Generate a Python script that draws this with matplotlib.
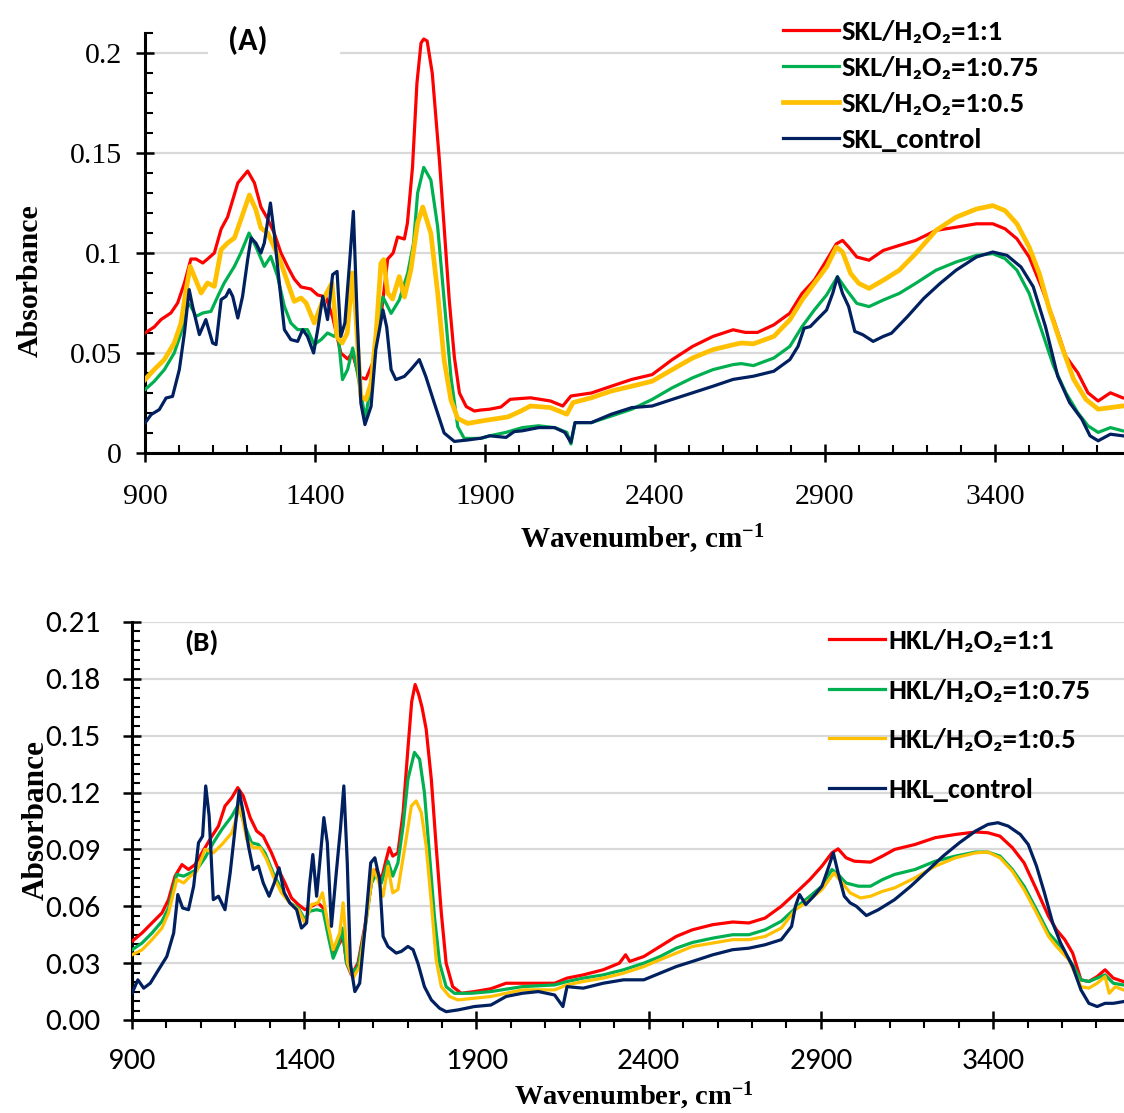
import matplotlib
matplotlib.use('Agg')
import matplotlib.pyplot as plt
from matplotlib import font_manager as fm
from matplotlib.ticker import MultipleLocator
from matplotlib.patches import Rectangle

# ---------------- Panel A data (SKL) ----------------
a_red_wn = [900, 927, 947, 976, 996, 1016, 1035, 1050, 1070, 1084, 1104, 1124, 1143, 1173, 1202, 1222, 1241, 1261,
            1280, 1300, 1320, 1339, 1359, 1388, 1408, 1432, 1452, 1476, 1496, 1510, 1530, 1550, 1570, 1594, 1614,
            1630, 1643, 1663, 1672, 1687, 1700, 1712, 1720, 1730, 1745, 1766, 1780, 1795, 1810, 1825, 1845, 1869,
            1888, 1914, 1947, 1974, 1986, 2034, 2093, 2129, 2153, 2213, 2272, 2332, 2392, 2451, 2511, 2571, 2630,
            2666, 2702, 2750, 2797, 2833, 2869, 2905, 2934, 2952, 2970, 2994, 3030, 3072, 3119, 3167, 3227, 3286,
            3346, 3394, 3430, 3465, 3501, 3537, 3573, 3609, 3644, 3674, 3704, 3740, 3776]
a_red_abs = [.060, .063, .0667, .070, .075, .085, .097, .097, .095, .097, .100, .112, .118, .135, .141, .135, .123, .117,
             .110, .100, .093, .087, .083, .082, .079, .078, .068, .050, .047, .050, .038, .037, .045, .068, .097,
             .100, .108, .107, .115, .143, .185, .205, .207, .206, .19, .1465, .113, .0765, .048, .030, .0232, .021,
             .0215, .0219, .023, .0268, .027, .0276, .026, .0235, .0285, .030, .0334, .0368, .0392, .0467, .0533, .0583, .0616,
             .0603, .0603, .0641, .0699, .0798, .0864, .0964, .1046, .1063, .103, .098, .0964, .1013, .1038, .1063, .1113, .1129,
             .1146, .1146, .1121, .1071, .098, .0831, .0666, .0483, .0401, .0301, .026, .0301, .0276]

a_green_wn = [900, 927, 957, 986, 1006, 1025, 1035, 1050, 1070, 1094, 1114, 1133, 1163, 1182, 1206, 1226, 1251, 1270,
              1290, 1310, 1329, 1349, 1378, 1398, 1418, 1437, 1457, 1467, 1481, 1496, 1511, 1525, 1548, 1565, 1584,
              1600, 1624, 1648, 1673, 1690, 1702, 1720, 1741, 1761, 1780, 1800, 1820, 1839, 1888, 1914, 1962, 2010,
              2058, 2105, 2141, 2153, 2165, 2213, 2272, 2332, 2392, 2451, 2511, 2571, 2630, 2654, 2690, 2750, 2797,
              2833, 2869, 2905, 2937, 2964, 2994, 3030, 3072, 3119, 3167, 3227, 3286, 3346, 3394, 3430, 3465, 3501,
              3537, 3573, 3609, 3644, 3674, 3704, 3740, 3776]
a_green_abs = [.0317, .0358, .0417, .050, .060, .075, .0733, .0683, .070, .0708, .0783, .085, .0933, .100, .110, .1033, .0933, .0983,
               .0883, .0733, .065, .0617, .0617, .0542, .0567, .060, .0583, .0608, .0367, .0417, .0525, .040, .017, .035, .065,
               .078, .0698, .0765, .090, .105, .130, .1428, .1365, .113, .0765, .038, .0132, .0073, .0073, .0086, .0103, .0127,
               .0136, .0127, .0103, .0045, .0152, .0152, .0185, .0219, .0268, .0326, .0376, .0417, .0442, .0447, .0437, .0475, .0533,
               .0632, .0715, .079, .0881, .0815, .0748, .0732, .0765, .0798, .0848, .0914, .0955, .0988, .0997, .0972, .0914, .0798,
               .0616, .0434, .0301, .0202, .0136, .0103, .0127, .0111]

a_yellow_wn = [900, 927, 957, 986, 1006, 1021, 1033, 1045, 1065, 1084, 1104, 1124, 1143, 1163, 1182, 1207, 1226, 1241,
               1261, 1280, 1300, 1320, 1339, 1359, 1374, 1398, 1425, 1450, 1465, 1480, 1495, 1510, 1520, 1535, 1550,
               1565, 1580, 1594, 1602, 1614, 1628, 1648, 1663, 1682, 1702, 1717, 1741, 1761, 1780, 1800, 1820, 1849,
               1908, 1967, 2006, 2034, 2093, 2141, 2159, 2213, 2272, 2332, 2392, 2451, 2511, 2571, 2630, 2654, 2690,
               2750, 2797, 2833, 2869, 2905, 2934, 2952, 2976, 3000, 3030, 3072, 3119, 3167, 3227, 3286, 3346, 3394,
               3430, 3465, 3501, 3531, 3561, 3597, 3632, 3668, 3704, 3740, 3776]
a_yellow_abs = [.0367, .0417, .0467, .055, .065, .0817, .0933, .0883, .080, .085, .0833, .1017, .105, .1075, .1167, .129, .1217, .1125,
                .110, .103, .095, .085, .0758, .0775, .075, .065, .077, .085, .058, .055, .060, .090, .070, .0283, .0267,
                .035, .060, .0948, .0967, .080, .077, .0882, .078, .0915, .115, .123, .1098, .080, .0465, .0265, .0173, .0148,
                .0165, .018, .021, .0235, .0227, .0194, .0252, .0276, .031, .0334, .0359, .0417, .0475, .0517, .0541, .055, .0546,
                .0583, .0666, .0765, .0848, .093, .103, .1005, .0897, .0848, .0823, .0864, .0914, .0997, .1113, .1179, .122, .1237,
                .1212, .1146, .103, .0897, .0715, .0533, .0368, .0268, .0219, .0227, .0235]

a_navy_wn = [900, 918, 942, 962, 981, 1001, 1016, 1030, 1040, 1060, 1079, 1099, 1109, 1124, 1138, 1148, 1158, 1173,
             1187, 1202, 1212, 1226, 1241, 1251, 1269, 1280, 1295, 1310, 1329, 1349, 1364, 1378, 1396, 1408, 1423,
             1437, 1452, 1465, 1476, 1488, 1501, 1513, 1524, 1535, 1547, 1565, 1579, 1600, 1611, 1624, 1638, 1663,
             1682, 1707, 1726, 1751, 1780, 1810, 1849, 1888, 1914, 1937, 1962, 1986, 2010, 2058, 2105, 2135, 2153,
             2165, 2213, 2272, 2332, 2392, 2451, 2511, 2571, 2630, 2690, 2750, 2797, 2821, 2839, 2857, 2881, 2905,
             2923, 2937, 2952, 2970, 2988, 3012, 3042, 3072, 3096, 3143, 3191, 3239, 3286, 3346, 3394, 3436, 3477,
             3513, 3549, 3585, 3620, 3656, 3680, 3704, 3740, 3776]
a_navy_abs = [.015, .0192, .0217, .0275, .0283, .0417, .060, .0817, .0733, .0592, .0667, .055, .0542, .0767, .0783, .0817, .0783, .0675,
              .0783, .0967, .1075, .105, .100, .105, .125, .110, .085, .0617, .0567, .0558, .0617, .0583, .050, .0617, .0783,
              .0667, .0892, .0908, .0583, .065, .0933, .1208, .0683, .025, .0142, .0233, .0517, .0715, .063, .0417, .0367, .0383,
              .0417, .0467, .0383, .025, .010, .0058, .0065, .0074, .0086, .0082, .0078, .0107, .0111, .0127, .0127, .0103, .0053,
              .0152, .0152, .0194, .0227, .0235, .0268, .0301, .0334, .0368, .0384, .0409, .0467, .0533, .0624, .0632, .0674, .0715,
              .0798, .0881, .0798, .0732, .0608, .0591, .0558, .0583, .0599, .0682, .0773, .0848, .0914, .098, .1005, .0988, .093,
              .0831, .0632, .0384, .0252, .0169, .0086, .0061, .0094, .0086]

# ---------------- Panel B data (HKL) ----------------
b_red_wn = [900, 929, 958, 987, 1006, 1025, 1045, 1064, 1083, 1103, 1132, 1151, 1170, 1190, 1207, 1223, 1243, 1262,
            1281, 1305, 1325, 1344, 1363, 1383, 1402, 1421, 1440, 1460, 1470, 1484, 1503, 1513, 1523, 1537, 1556,
            1576, 1595, 1609, 1624, 1638, 1647, 1657, 1672, 1687, 1701, 1712, 1722, 1732, 1742, 1754, 1769, 1783,
            1798, 1812, 1831, 1856, 1894, 1942, 1986, 2033, 2080, 2127, 2163, 2210, 2268, 2315, 2333, 2345, 2386,
            2433, 2480, 2527, 2586, 2644, 2691, 2738, 2785, 2832, 2868, 2903, 2932, 2950, 2973, 2997, 3044, 3079,
            3114, 3173, 3232, 3291, 3349, 3385, 3420, 3456, 3490, 3526, 3561, 3584, 3608, 3631, 3655, 3678, 3702,
            3725, 3749, 3778]
b_red_abs = [.0415, .0459, .0512, .0565, .0635, .0759, .082, .0794, .082, .0882, .097, .1023, .1129, .1173, .1226, .1182, .1068, .0997,
             .097, .0882, .0794, .0723, .0644, .0609, .0582, .060, .0618, .0582, .0476, .0353, .0406, .0441, .030, .0238, .030,
             .0494, .0723, .0794, .0741, .0847, .0909, .0865, .0882, .1094, .143, .168, .177, .172, .165, .1535, .127, .0918,
             .0565, .030, .0176, .0141, .015, .0165, .0194, .0194, .0194, .0194, .0221, .0238, .0265, .030, .0344, .0309, .0335,
             .0388, .0441, .0476, .0503, .0517, .0512, .0538, .060, .0679, .0741, .0812, .0882, .0903, .0856, .0838, .0833, .0865,
             .090, .0926, .0962, .0979, .0992, .0988, .097, .0909, .0829, .0688, .0547, .0476, .0424, .0353, .0212, .0203, .0229,
             .0265, .0221, .0203]

b_green_wn = [900, 929, 958, 987, 1006, 1030, 1050, 1069, 1088, 1112, 1136, 1161, 1190, 1209, 1228, 1247, 1267, 1286,
              1310, 1334, 1358, 1383, 1402, 1416, 1436, 1455, 1470, 1484, 1498, 1510, 1523, 1537, 1556, 1576, 1595,
              1609, 1624, 1643, 1657, 1672, 1687, 1701, 1720, 1735, 1749, 1764, 1778, 1793, 1812, 1836, 1885, 1942,
              2033, 2127, 2163, 2210, 2268, 2327, 2386, 2433, 2480, 2527, 2586, 2644, 2691, 2738, 2785, 2832, 2868,
              2903, 2932, 2950, 2973, 3009, 3044, 3079, 3114, 3173, 3232, 3291, 3349, 3385, 3420, 3456, 3490, 3526,
              3561, 3596, 3631, 3655, 3678, 3725, 3749, 3778]
b_green_abs = [.037, .0406, .0459, .0521, .0591, .0768, .0759, .0776, .0794, .0856, .0935, .1006, .1076, .1138, .1023, .0935, .0926, .0882,
               .0776, .0688, .0618, .0591, .0529, .0574, .0582, .0574, .0441, .0326, .0388, .0485, .030, .0247, .0282, .0476, .0723,
               .0768, .0723, .0838, .0759, .0829, .1023, .127, .1412, .1376, .120, .0865, .0547, .030, .0176, .0141, .0141, .015,
               .0176, .0185, .0203, .0221, .0238, .0265, .030, .0335, .0379, .0409, .0432, .045, .045, .0476, .0521, .060, .0653,
               .0706, .0794, .0768, .0723, .0706, .0706, .0741, .0768, .0794, .0838, .0865, .0886, .0886, .0865, .0794, .0706, .0582,
               .0459, .0388, .0291, .0212, .0203, .0238, .0194, .0185]

b_yellow_wn = [900, 929, 958, 987, 1006, 1030, 1050, 1069, 1088, 1112, 1136, 1161, 1190, 1214, 1233, 1252, 1272, 1291,
               1310, 1334, 1358, 1383, 1402, 1421, 1440, 1453, 1468, 1484, 1503, 1513, 1526, 1542, 1561, 1580, 1600,
               1614, 1629, 1643, 1657, 1672, 1691, 1711, 1725, 1740, 1754, 1769, 1783, 1798, 1822, 1846, 1894, 1942,
               2033, 2127, 2163, 2210, 2268, 2327, 2386, 2433, 2480, 2527, 2586, 2644, 2691, 2738, 2785, 2826, 2868,
               2903, 2938, 2962, 2985, 3015, 3044, 3079, 3114, 3173, 3232, 3291, 3349, 3385, 3420, 3456, 3490, 3526,
               3561, 3584, 3620, 3655, 3678, 3702, 3725, 3737, 3755, 3778]
b_yellow_abs = [.0344, .037, .0424, .0485, .0565, .0741, .0723, .0759, .0785, .090, .0882, .0926, .0988, .1129, .0953, .0909, .0909, .0847,
                .0759, .0671, .0618, .0582, .0512, .0609, .0618, .0671, .0512, .0371, .0459, .0618, .030, .0221, .0282, .0529, .0794,
                .0741, .0653, .0812, .0671, .0688, .090, .1129, .1156, .1094, .0918, .0618, .0318, .0176, .0124, .0106, .0115, .0124,
                .0159, .0159, .0185, .0203, .0221, .0247, .0282, .0318, .0353, .0388, .0406, .0424, .0424, .0441, .0485, .0582, .0635,
                .0688, .0776, .0723, .0671, .0644, .0653, .0679, .0697, .075, .0812, .0856, .0882, .0886, .0856, .0785, .0688, .0565,
                .0441, .0388, .0318, .0176, .0168, .0194, .0229, .0141, .0176, .0159]

b_navy_wn = [900, 917, 934, 953, 977, 1001, 1021, 1033, 1047, 1064, 1079, 1093, 1105, 1114, 1124, 1136, 1151, 1170,
             1185, 1199, 1211, 1223, 1238, 1252, 1267, 1281, 1298, 1313, 1327, 1342, 1358, 1378, 1392, 1407, 1415,
             1425, 1436, 1445, 1457, 1467, 1479, 1493, 1505, 1515, 1525, 1534, 1547, 1561, 1578, 1593, 1605, 1619,
             1629, 1643, 1667, 1682, 1701, 1716, 1730, 1749, 1769, 1793, 1812, 1846, 1894, 1942, 1986, 2033, 2080,
             2127, 2151, 2163, 2210, 2268, 2327, 2386, 2433, 2480, 2527, 2586, 2644, 2691, 2738, 2785, 2815, 2826,
             2838, 2856, 2879, 2903, 2920, 2936, 2950, 2968, 2985, 3003, 3032, 3067, 3114, 3161, 3208, 3255, 3302,
             3349, 3385, 3414, 3444, 3479, 3502, 3526, 3549, 3573, 3596, 3631, 3655, 3678, 3702, 3725, 3749, 3778]
b_navy_abs = [.0141, .0212, .0168, .0194, .0265, .0335, .0459, .0662, .0591, .0582, .0706, .0935, .097, .1235, .1076, .0635, .0653, .0582,
              .0776, .1006, .1209, .1094, .0918, .0794, .0812, .0723, .0653, .0723, .0803, .0671, .0618, .0582, .0485, .0512, .0706,
              .0873, .0653, .0829, .1068, .0935, .0494, .0776, .1006, .1235, .0829, .030, .015, .0194, .0512, .0829, .0856, .0741,
              .0441, .0388, .0353, .0362, .0388, .0371, .030, .0176, .0106, .0062, .0044, .0053, .0071, .0079, .0124, .0141, .015,
              .0132, .0071, .0176, .0168, .0194, .0212, .0212, .0247, .0282, .0309, .0344, .0371, .0379, .0397, .0424, .0494, .060,
              .0662, .0609, .0653, .0706, .0794, .0882, .0776, .0653, .0618, .060, .0551, .0582, .0635, .0706, .0785, .0865, .0935,
              .0997, .1032, .1041, .1023, .0979, .0926, .0812, .0671, .0512, .0406, .0282, .0159, .0088, .0071, .0088, .0088, .0097]

a_labels = ['SKL/H\u2082O\u2082=1:1', 'SKL/H\u2082O\u2082=1:0.75', 'SKL/H\u2082O\u2082=1:0.5', 'SKL_control']
b_labels = ['HKL/H\u2082O\u2082=1:1', 'HKL/H\u2082O\u2082=1:0.75', 'HKL/H\u2082O\u2082=1:0.5', 'HKL_control']

# ---------------- styling ----------------
def has_font(name):
    try:
        fm.findfont(fm.FontProperties(family=name), fallback_to_default=False)
        return True
    except Exception:
        return False

CARLITO = has_font('Carlito')
SANS = 'Carlito' if CARLITO else 'Lato'
SERIF = 'Liberation Serif'
plt.rcParams['mathtext.fontset'] = 'custom'
plt.rcParams['mathtext.rm'] = SERIF
plt.rcParams['mathtext.bf'] = SERIF + ':bold'
plt.rcParams['mathtext.it'] = SERIF + ':italic'

RED, GREEN, YELLOW, NAVY = '#FF0000', '#00B050', '#FFC000', '#002060'
GRID = '#D9D9D9'
W, H = 1124, 1113
sans_scale = 1.0 if CARLITO else 0.87

fig = plt.figure(figsize=(W / 100, H / 100), dpi=100)

def px_axes(left, top, right, bottom):
    return fig.add_axes([left / W, 1 - bottom / H, (right - left) / W, (bottom - top) / H])

axA = px_axes(145, 33, 1124, 453)
axB = px_axes(132, 622, 1124, 1020)

def base_style(ax):
    for s in ['top', 'right']:
        ax.spines[s].set_visible(False)
    for s in ['left', 'bottom']:
        ax.spines[s].set_linewidth(2.2)
        ax.spines[s].set_color('black')
    ax.set_xlim(900, 3780)
    ax.set_ylim(0, 0.21)
    ax.set_xticks([900, 1400, 1900, 2400, 2900, 3400])
    ax.xaxis.set_minor_locator(MultipleLocator(100))
    ax.grid(axis='y', which='major', color=GRID, linewidth=1.6, zorder=0)
    ax.set_axisbelow(True)
    ax.patch.set_alpha(0)

# Panel A
base_style(axA)
axA.set_yticks([0, 0.05, 0.1, 0.15, 0.2])
axA.set_yticklabels(['0', '0.05', '0.1', '0.15', '0.2'])
axA.yaxis.set_minor_locator(MultipleLocator(0.01))
axA.tick_params(which='major', direction='inout', length=13, width=1.8, pad=10)
axA.tick_params(which='minor', direction='in', length=6, width=1.5)
axA.tick_params(axis='x', which='major', pad=16)
for lab in axA.get_xticklabels() + axA.get_yticklabels():
    lab.set_fontfamily(SERIF)
    lab.set_fontsize(21.5)

axA.plot(a_red_wn, a_red_abs, color=RED, lw=2.3, label=a_labels[0], zorder=3)
axA.plot(a_green_wn, a_green_abs, color=GREEN, lw=2.3, label=a_labels[1], zorder=3)
axA.plot(a_yellow_wn, a_yellow_abs, color=YELLOW, lw=3.4, label=a_labels[2], zorder=3)
axA.plot(a_navy_wn, a_navy_abs, color=NAVY, lw=2.3, label=a_labels[3], zorder=4)

leg_font_a = fm.FontProperties(family=[SANS, 'DejaVu Sans'], weight='bold', size=20.5 * sans_scale)
legA = axA.legend(loc='upper left', bbox_to_anchor=(783 / W, 1 - 20 / H), bbox_transform=fig.transFigure,
                  frameon=False, prop=leg_font_a, handlelength=1.95, handletextpad=0.12,
                  labelspacing=0.42, borderpad=0, borderaxespad=0)

axA.set_ylabel('Absorbance', fontfamily=SERIF, fontweight='bold', fontsize=21.5)
axA.yaxis.set_label_coords((44 - 145) / (1124 - 145), 0.5 + (243 - 281) / 420)
axA.set_xlabel('Wavenumber, cm$^{\\mathbf{-1}}$', fontfamily=SERIF, fontweight='bold', fontsize=21)
axA.xaxis.set_label_coords((642 - 145) / (1124 - 145), -(523 - 453) / 420)

fig.patches.append(Rectangle((208 / W, 1 - 62 / H), (340 - 208) / W, 38 / H, transform=fig.transFigure,
                             facecolor='white', edgecolor='none', zorder=1))
fig.text(248 / W, 1 - 41 / H, '(A)', fontfamily=[SANS, 'DejaVu Sans'], fontweight='bold',
         fontsize=23 * sans_scale, ha='center', va='center', zorder=2)

# Panel B
base_style(axB)
axB.set_yticks([0, 0.03, 0.06, 0.09, 0.12, 0.15, 0.18, 0.21])
axB.set_yticklabels(['0.00', '0.03', '0.06', '0.09', '0.12', '0.15', '0.18', '0.21'])
axB.yaxis.set_minor_locator(MultipleLocator(0.005))
axB.tick_params(which='major', direction='inout', length=13, width=1.8, pad=16)
axB.tick_params(axis='y', which='minor', direction='in', length=6, width=1.5)
axB.tick_params(axis='x', which='minor', direction='out', length=6, width=1.5)
axB.tick_params(axis='x', which='major', pad=14)
for lab in axB.get_xticklabels() + axB.get_yticklabels():
    lab.set_fontfamily(SANS)
    lab.set_fontsize(22.5 * sans_scale)

axB.plot(b_red_wn, b_red_abs, color=RED, lw=2.3, label=b_labels[0], zorder=3)
axB.plot(b_green_wn, b_green_abs, color=GREEN, lw=2.3, label=b_labels[1], zorder=3)
axB.plot(b_yellow_wn, b_yellow_abs, color=YELLOW, lw=2.3, label=b_labels[2], zorder=3)
axB.plot(b_navy_wn, b_navy_abs, color=NAVY, lw=2.3, label=b_labels[3], zorder=4)

leg_font_b = fm.FontProperties(family=[SANS, 'DejaVu Sans'], weight='bold', size=20.5 * sans_scale)
legB = axB.legend(loc='upper left', bbox_to_anchor=(829 / W, 1 - 629 / H), bbox_transform=fig.transFigure,
                  frameon=False, prop=leg_font_b, handlelength=1.95, handletextpad=0.12,
                  labelspacing=0.9, borderpad=0, borderaxespad=0)

axB.set_ylabel('Absorbance', fontfamily=SERIF, fontweight='bold', fontsize=22.5)
axB.yaxis.set_label_coords((51 - 132) / (1124 - 132), 0.5 + (821 - 820) / 398)
axB.set_xlabel('Wavenumber, cm$^{\\mathbf{-1}}$', fontfamily=SERIF, fontweight='bold', fontsize=20.5)
axB.xaxis.set_label_coords((634 - 132) / (1124 - 132), -(1080 - 1020) / 398)

fig.text(201 / W, 1 - 642 / H, '(B)', fontfamily=[SANS, 'DejaVu Sans'], fontweight='bold',
         fontsize=21 * sans_scale, ha='center', va='center')

fig.savefig('out.png', dpi=100)
